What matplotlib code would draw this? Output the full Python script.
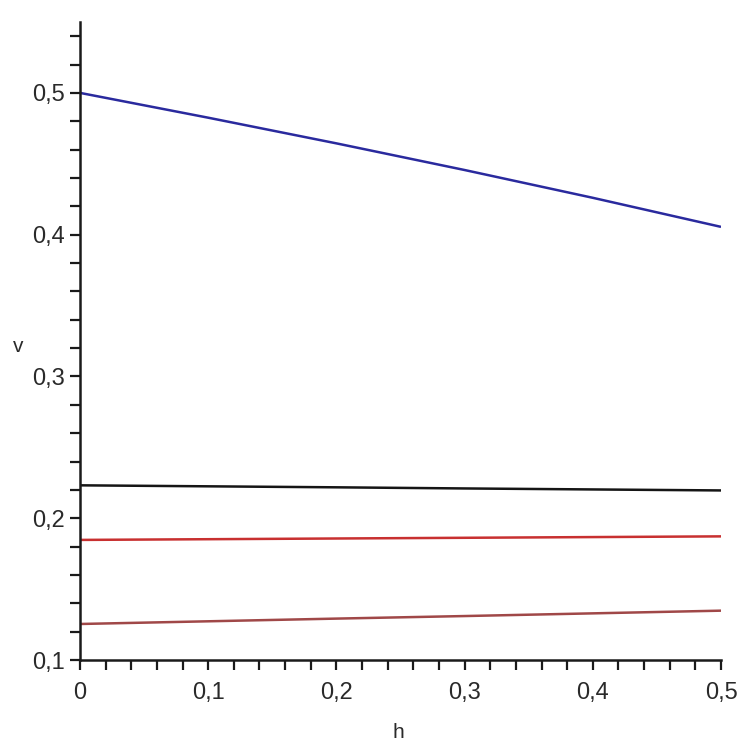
import matplotlib
matplotlib.use("Agg")
import matplotlib.pyplot as plt
from matplotlib.ticker import MultipleLocator, FuncFormatter

plt.rcParams['font.family'] = ['Liberation Sans', 'DejaVu Sans']

h = [0.0, 0.1, 0.2, 0.3, 0.4, 0.5]
v_blue = [0.5000, 0.4825, 0.4644, 0.4456, 0.4260, 0.4055]
v_black = [0.2232, 0.2225, 0.2218, 0.2210, 0.2203, 0.2196]
v_red = [0.1847, 0.1852, 0.1857, 0.1862, 0.1867, 0.1872]
v_maroon = [0.1254, 0.1273, 0.1292, 0.1310, 0.1329, 0.1348]

series = [
    (v_blue, '#2a2a9e'),
    (v_black, '#151515'),
    (v_red, '#c83030'),
    (v_maroon, '#a04848'),
]

fig = plt.figure(figsize=(7.41, 7.42), dpi=100)
ax = fig.add_axes([80/741, 1 - 660/742, 641/741, 638/742])

for vals, c in series:
    ax.plot(h, vals, color=c, lw=1.8, solid_capstyle='butt')

ax.set_xlim(0, 0.5)
ax.set_ylim(0.1, 0.55)

for s in ['top', 'right']:
    ax.spines[s].set_visible(False)
for s in ['left', 'bottom']:
    ax.spines[s].set_linewidth(1.8)
    ax.spines[s].set_color('#1a1a1a')

ax.xaxis.set_major_locator(MultipleLocator(0.1))
ax.xaxis.set_minor_locator(MultipleLocator(0.02))
ax.yaxis.set_major_locator(MultipleLocator(0.1))
ax.yaxis.set_minor_locator(MultipleLocator(0.02))

def fmt(v, pos):
    if abs(v) < 1e-9:
        return "0"
    return f"{v:.1f}".replace('.', ',')

ax.xaxis.set_major_formatter(FuncFormatter(fmt))
ax.yaxis.set_major_formatter(FuncFormatter(fmt))

ax.tick_params(axis='both', which='both', direction='out', length=7, width=1.6,
               color='#1a1a1a', labelsize=17, labelcolor='#2a2a2a')
ax.tick_params(axis='x', which='major', pad=9)
ax.tick_params(axis='y', which='major', pad=4)

fig.text(398/741, 1 - 733/742, 'h', ha='center', va='center', fontsize=15, color='#2a2a2a')
fig.text(18/741, 1 - 346/742, 'v', ha='center', va='center', fontsize=15, color='#2a2a2a')

fig.savefig('out.png', dpi=100, facecolor='white')
